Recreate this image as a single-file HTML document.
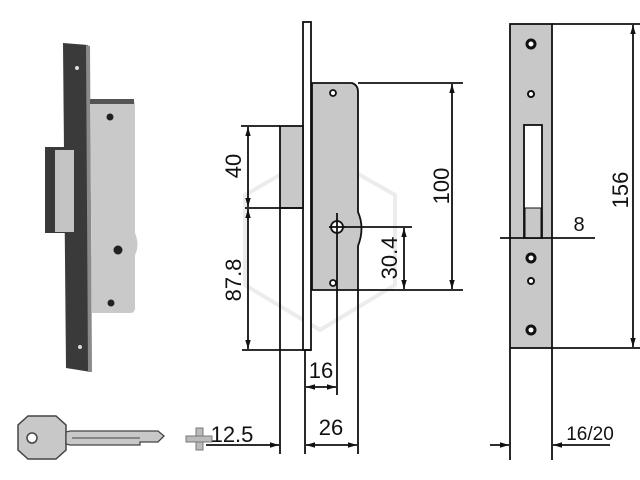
<!DOCTYPE html>
<html><head><meta charset="utf-8"><style>
html,body{margin:0;padding:0;background:#fff}
svg{display:block}
text{font-family:"Liberation Sans",Arial,sans-serif;fill:#111}
</style></head><body>
<svg width="640" height="480" viewBox="0 0 640 480" xmlns="http://www.w3.org/2000/svg">
<defs>
<marker id="a" viewBox="0 0 10 10" refX="10" refY="5" markerWidth="5" markerHeight="5" orient="auto-start-reverse"><path d="M0,2 L10,5 L0,8 z" fill="#111"/></marker>
</defs>
<polygon points="320,152 395,195 395,285 320,330 245,285 245,195" fill="none" stroke="#ececec" stroke-width="4"/>

<polygon points="63,43 88,45 91,372 66,368" fill="#3a3a3a"/>
<polygon points="86,45 90,46 92,372 88,372" fill="#8a8a8a"/>
<path d="M90,100 L100,99 L132,100 Q135,101 135,105 L135,233 Q140,245 135,255 L135,308 Q135,313 130,313 L92,313 Z" fill="#c9c9c9"/>
<rect x="90" y="99" width="44" height="5" fill="#555"/>
<circle cx="110" cy="117" r="3.5" fill="#222"/>
<circle cx="118" cy="250" r="4.5" fill="#222"/>
<circle cx="111" cy="303" r="3.5" fill="#222"/>
<rect x="45" y="147" width="33" height="86" fill="#3a3a3a"/>
<rect x="55" y="150" width="19" height="82" fill="#c4c4c4"/>
<circle cx="77" cy="68" r="2" fill="#ddd"/><circle cx="80" cy="347" r="2" fill="#ddd"/>
<polygon points="28,416 56,416 66,425 66,450 56,459 28,459 18,450 18,425" fill="#c8c8c8" stroke="#444" stroke-width="1.5"/>
<circle cx="32" cy="438" r="5" fill="#fff" stroke="#444" stroke-width="1.5"/>
<path d="M66,432 L70,431 L158,431 L164,436 L158,442 L140,442 L140,445 L70,445 L66,444 Z" fill="#c8c8c8" stroke="#444" stroke-width="1.3"/>
<line x1="72" y1="438" x2="140" y2="438" stroke="#444"/>
<rect x="196" y="428" width="7" height="22" fill="#bbb" stroke="#777"/>
<rect x="186" y="436" width="26" height="6" fill="#bbb" stroke="#777"/>

<g stroke="#111" stroke-width="1.8" fill="none">
<rect x="303" y="22" width="8" height="328" fill="#fff"/>
<path d="M312,83 L352,83 Q358,85 358,92 L358,212 Q365,228 358,246 L358,290 L312,290 Z" fill="#c8c8c8"/>
<rect x="280" y="126" width="23" height="82" fill="#c8c8c8"/>
<circle cx="333" cy="93" r="3" fill="#fff"/>
<circle cx="333" cy="283" r="3" fill="#fff"/>
<circle cx="337" cy="227" r="6" fill="#fff"/>
<line x1="337" y1="219" x2="337" y2="235"/><line x1="329" y1="227" x2="345" y2="227"/>
<line x1="337" y1="213" x2="337" y2="220"/>
<line x1="358" y1="83" x2="463" y2="83"/>
<line x1="358" y1="290" x2="463" y2="290"/>
<line x1="241" y1="126" x2="280" y2="126"/>
<line x1="245" y1="208" x2="303" y2="208"/>
<line x1="242" y1="350" x2="311" y2="350"/>
<line x1="343" y1="227" x2="412" y2="227"/>
<line x1="280" y1="208" x2="280" y2="454"/>
<line x1="305" y1="350" x2="305" y2="454"/>
<line x1="358" y1="290" x2="358" y2="454"/>
<line x1="337" y1="235" x2="337" y2="395"/>
<line x1="452" y1="84" x2="452" y2="289" marker-start="url(#a)" marker-end="url(#a)"/>
<line x1="248" y1="127" x2="248" y2="207" marker-start="url(#a)" marker-end="url(#a)"/>
<line x1="248" y1="209" x2="248" y2="349" marker-start="url(#a)" marker-end="url(#a)"/>
<line x1="404" y1="228" x2="404" y2="289" marker-start="url(#a)" marker-end="url(#a)"/>
<line x1="306" y1="387" x2="336" y2="387" marker-start="url(#a)" marker-end="url(#a)"/>
<line x1="306" y1="445" x2="357" y2="445" marker-start="url(#a)" marker-end="url(#a)"/>
<line x1="206" y1="445" x2="279" y2="445" marker-end="url(#a)"/>
</g>
<text font-size="22" transform="translate(241,166) rotate(-90)" text-anchor="middle">40</text>
<text font-size="22" transform="translate(241,280) rotate(-90)" text-anchor="middle">87.8</text>
<text font-size="22" transform="translate(449,186) rotate(-90)" text-anchor="middle">100</text>
<text font-size="22" transform="translate(397,258) rotate(-90)" text-anchor="middle">30.4</text>
<text x="321" y="378" font-size="22" text-anchor="middle">16</text>
<text x="331" y="435" font-size="22" text-anchor="middle">26</text>
<text x="232" y="442" font-size="22" text-anchor="middle">12.5</text>

<g stroke="#111" stroke-width="1.8" fill="none">
<rect x="510" y="24" width="42" height="324" fill="#c8c8c8"/>
<rect x="524" y="125" width="18" height="113" fill="#fff"/>
<rect x="525" y="208" width="16" height="30" fill="#c8c8c8" stroke-width="1"/>
<line x1="552" y1="24" x2="640" y2="24"/>
<line x1="552" y1="348" x2="640" y2="348"/>
<line x1="633" y1="25" x2="633" y2="347" marker-start="url(#a)" marker-end="url(#a)"/>
<line x1="500" y1="238" x2="595" y2="238"/>
<line x1="510" y1="348" x2="510" y2="460"/>
<line x1="552" y1="348" x2="552" y2="460"/>
<line x1="490" y1="445" x2="509" y2="445" marker-end="url(#a)"/>
<line x1="610" y1="445" x2="553" y2="445" marker-end="url(#a)"/>
</g>
<g fill="#fff" stroke="#111">
<circle cx="531" cy="44" r="4" stroke-width="3"/>
<circle cx="531" cy="94" r="3" stroke-width="2"/>
<circle cx="531" cy="258" r="4" stroke-width="3"/>
<circle cx="531" cy="281" r="3" stroke-width="2"/>
<circle cx="531" cy="330" r="4" stroke-width="3"/>
</g>
<text font-size="22" transform="translate(628,190) rotate(-90)" text-anchor="middle">156</text>
<text x="579" y="231" font-size="20" text-anchor="middle">8</text>
<text x="590" y="440" font-size="19" text-anchor="middle">16/20</text>
</svg>
</body></html>
